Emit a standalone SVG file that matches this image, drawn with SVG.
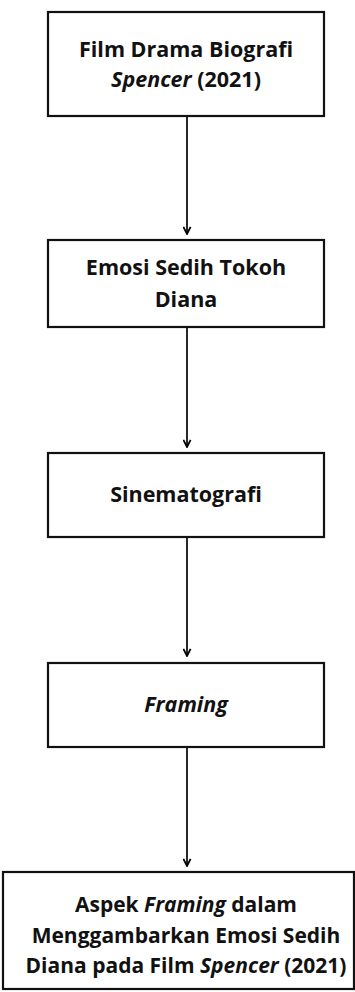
<svg xmlns="http://www.w3.org/2000/svg" width="355" height="992" viewBox="0 0 355 992">
<defs>
<marker id="ah" viewBox="0 0 10 10" refX="9" refY="5" markerWidth="9" markerHeight="9" markerUnits="userSpaceOnUse" orient="auto">
<path d="M1,1 L9,5 L1,9" fill="none" stroke="#000" stroke-width="2"/>
</marker>
<style>
.box{fill:#fff;stroke:#111;stroke-width:2.2}
.t{font-family:"Open Sans","Liberation Sans",sans-serif;font-weight:700;font-size:21.5px;fill:#111;text-anchor:middle}
.s{font-size:21px}
.i{font-style:italic}
.c{stroke:#111;stroke-width:1.8;fill:none}
</style>
</defs>
<rect width="355" height="992" fill="#fff"/>
<g id="connectors">
<line class="c" x1="187" y1="117" x2="187" y2="234" marker-end="url(#ah)"/>
<line class="c" x1="187" y1="328" x2="187" y2="447" marker-end="url(#ah)"/>
<line class="c" x1="187" y1="538" x2="187" y2="656" marker-end="url(#ah)"/>
<line class="c" x1="187" y1="748" x2="187" y2="866" marker-end="url(#ah)"/>
</g>
<g id="n1">
<rect class="box" x="48" y="12" width="276" height="104"/>
<text class="t" x="186" y="57">Film Drama Biografi</text>
<text class="t" x="186" y="87"><tspan class="i">Spencer</tspan> (2021)</text>
</g>
<g id="n2">
<rect class="box" x="48" y="240" width="276" height="87"/>
<text class="t" x="186" y="275">Emosi Sedih Tokoh</text>
<text class="t" x="186" y="307">Diana</text>
</g>
<g id="n3">
<rect class="box" x="48" y="453" width="276" height="84"/>
<text class="t" x="186" y="502">Sinematografi</text>
</g>
<g id="n4">
<rect class="box" x="48" y="663" width="276" height="84"/>
<text class="t i" x="186" y="712">Framing</text>
</g>
<g id="n5">
<rect class="box" x="3" y="872" width="351" height="117"/>
<text class="t s" x="186" y="912">Aspek <tspan class="i">Framing</tspan> dalam</text>
<text class="t s" x="186" y="943">Menggambarkan Emosi Sedih</text>
<text class="t s" x="186" y="973">Diana pada Film <tspan class="i">Spencer</tspan> (2021)</text>
</g>
</svg>
